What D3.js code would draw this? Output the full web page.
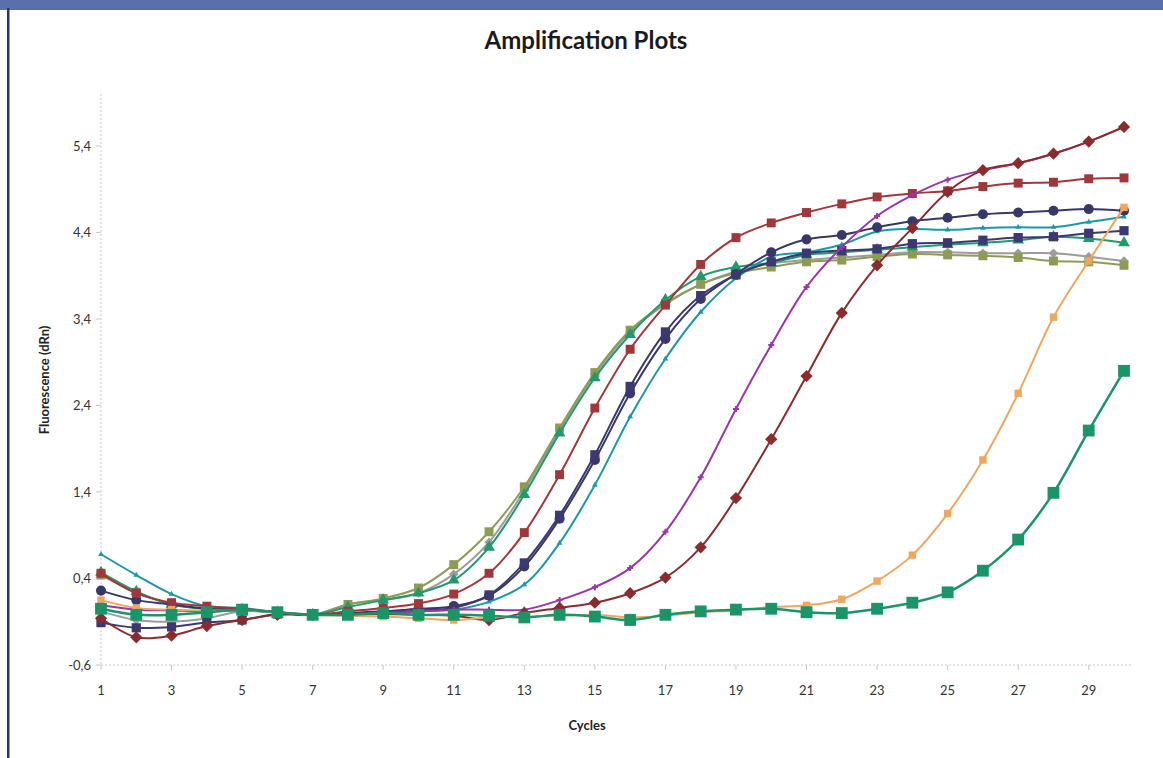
<!DOCTYPE html>
<html>
<head>
<meta charset="utf-8">
<script src="https://cdn.jsdelivr.net/npm/d3@7"></script>
<style>
  body { margin: 0; background: #fff; }
  svg { display: block; font-family: Lato, "Open Sans", sans-serif; }
</style>
</head>
<body>
<svg id="chart" width="1163" height="758"></svg>
<script>
// cycles 1..30
const cycles = d3.range(1, 31);
const yTicks = [-0.6, 0.4, 1.4, 2.4, 3.4, 4.4, 5.4];
const xTicks = [1, 3, 5, 7, 9, 11, 13, 15, 17, 19, 21, 23, 25, 27, 29];

const grayDiamond = [0.02, -0.08, -0.10, -0.06, 0.02, 0.01, -0.02, 0.10, 0.15, 0.23, 0.45, 0.82, 1.42, 2.12, 2.76, 3.25, 3.57, 3.80, 3.95, 4.04, 4.08, 4.11, 4.14, 4.17, 4.17, 4.16, 4.16, 4.16, 4.12, 4.07];
const oliveSquare = [0.44, 0.24, 0.10, 0.05, 0.04, 0.01, -0.02, 0.10, 0.17, 0.29, 0.56, 0.94, 1.46, 2.14, 2.78, 3.27, 3.58, 3.80, 3.93, 4.00, 4.06, 4.08, 4.12, 4.15, 4.14, 4.13, 4.11, 4.07, 4.06, 4.02];
const greenTriangle = [0.47, 0.25, 0.10, 0.05, 0.04, 0.01, -0.02, 0.07, 0.15, 0.23, 0.38, 0.76, 1.37, 2.08, 2.72, 3.22, 3.62, 3.89, 4.00, 4.05, 4.14, 4.17, 4.20, 4.23, 4.26, 4.28, 4.31, 4.35, 4.33, 4.28];
const tealLine = [0.68, 0.44, 0.22, 0.08, 0.06, 0.01, -0.02, -0.02, 0.00, 0.02, 0.04, 0.13, 0.33, 0.81, 1.48, 2.27, 2.94, 3.48, 3.87, 4.12, 4.17, 4.26, 4.41, 4.44, 4.43, 4.45, 4.46, 4.46, 4.52, 4.58];
const navyCircle = [0.26, 0.15, 0.10, 0.05, 0.04, 0.01, -0.02, 0.00, 0.02, 0.05, 0.08, 0.20, 0.54, 1.09, 1.77, 2.54, 3.17, 3.63, 3.92, 4.17, 4.32, 4.37, 4.46, 4.53, 4.57, 4.61, 4.63, 4.65, 4.67, 4.65];
const navySquare = [-0.11, -0.17, -0.16, -0.11, -0.08, -0.01, -0.02, -0.01, 0.00, 0.03, 0.06, 0.21, 0.58, 1.13, 1.83, 2.62, 3.25, 3.67, 3.91, 4.06, 4.16, 4.19, 4.21, 4.27, 4.28, 4.31, 4.34, 4.35, 4.39, 4.42];
const redSquare = [0.46, 0.23, 0.12, 0.08, 0.05, 0.01, -0.02, 0.02, 0.06, 0.11, 0.22, 0.46, 0.93, 1.60, 2.37, 3.05, 3.56, 4.03, 4.34, 4.51, 4.63, 4.73, 4.81, 4.85, 4.88, 4.93, 4.97, 4.98, 5.02, 5.03];
const purpleLine = [0.09, 0.04, 0.03, 0.02, 0.03, 0.01, -0.02, -0.02, 0.00, 0.02, 0.04, 0.04, 0.04, 0.15, 0.30, 0.52, 0.94, 1.57, 2.36, 3.10, 3.77, 4.23, 4.59, 4.83, 5.01, 5.12, 5.20, 5.31, 5.45, 5.62];
const redDiamond = [-0.06, -0.28, -0.26, -0.15, -0.08, -0.02, -0.02, -0.02, -0.01, -0.02, -0.03, -0.08, 0.00, 0.06, 0.12, 0.23, 0.41, 0.76, 1.33, 2.01, 2.74, 3.47, 4.02, 4.45, 4.87, 5.12, 5.20, 5.31, 5.45, 5.62];
const orangeSquare = [0.15, 0.06, 0.04, 0.03, 0.03, 0.01, -0.02, -0.03, -0.04, -0.06, -0.08, -0.05, -0.04, -0.03, -0.02, -0.05, -0.03, 0.01, 0.03, 0.07, 0.09, 0.16, 0.37, 0.67, 1.15, 1.77, 2.54, 3.42, 4.07, 4.69];
const greenSquare = [0.05, -0.02, -0.02, 0.01, 0.04, 0.01, -0.02, -0.02, 0.00, -0.02, -0.02, -0.03, -0.05, -0.02, -0.04, -0.08, -0.02, 0.02, 0.04, 0.05, 0.01, 0.00, 0.05, 0.12, 0.24, 0.49, 0.85, 1.39, 2.11, 2.80];

// rotate: square turned 45deg gives the Excel diamond
const series = [
  { values: grayDiamond,   color: "#9c9c9c", symbol: d3.symbolSquare,   size: 45,  rotate: 45, width: 2 },
  { values: oliveSquare,   color: "#8e9b57", symbol: d3.symbolSquare,   size: 80,  rotate: 0,  width: 2 },
  { values: greenTriangle, color: "#22996c", symbol: d3.symbolTriangle, size: 60,  rotate: 0,  width: 2 },
  { values: tealLine,      color: "#1b98a8", symbol: d3.symbolTriangle, size: 14,  rotate: 0,  width: 2 },
  { values: navyCircle,    color: "#38376a", symbol: d3.symbolCircle,   size: 80,  rotate: 0,  width: 2 },
  { values: navySquare,    color: "#3b3872", symbol: d3.symbolSquare,   size: 85,  rotate: 0,  width: 2 },
  { values: redSquare,     color: "#a0373a", symbol: d3.symbolSquare,   size: 80,  rotate: 0,  width: 2 },
  { values: purpleLine,    color: "#9a36a6", symbol: d3.symbolCross,    size: 20,  rotate: 0,  width: 2 },
  { values: redDiamond,    color: "#8a2c2e", symbol: d3.symbolSquare,   size: 75,  rotate: 45, width: 2 },
  { values: orangeSquare,  color: "#f1a65e", symbol: d3.symbolSquare,   size: 55,  rotate: 0,  width: 2 },
  { values: greenSquare,   color: "#1b9468", symbol: d3.symbolSquare,   size: 140, rotate: 0,  width: 2.5 }
];

const svg = d3.select("#chart");

// frame: blue bar on top, dark border on the left
svg.append("rect").attr("x", 0).attr("y", 0).attr("width", 1163).attr("height", 10).attr("fill", "#5b6fae");
svg.append("rect").attr("x", 7).attr("y", 8).attr("width", 2.5).attr("height", 750).attr("fill", "#23356f");

const x = d3.scaleLinear().domain([1, 30]).range([101, 1124]);
const y = d3.scaleLinear().domain([-0.6, 6.0]).range([665, 94]);

// title
svg.append("text")
  .attr("x", 586).attr("y", 49)
  .attr("text-anchor", "middle")
  .style("font-size", "24px").style("font-weight", "bold")
  .attr("fill", "#1a1a1a")
  .text("Amplification Plots");

// axes lines (dashed, light)
svg.append("line")
  .attr("x1", x(1)).attr("x2", 1132).attr("y1", y(-0.6)).attr("y2", y(-0.6))
  .attr("stroke", "#c8c8c8").attr("stroke-dasharray", "2,2");
svg.append("line")
  .attr("x1", x(1)).attr("x2", x(1)).attr("y1", y(6.0)).attr("y2", y(-0.6))
  .attr("stroke", "#c8c8c8").attr("stroke-dasharray", "2,2");

// y ticks + labels
const yAxis = svg.append("g");
yAxis.selectAll("line").data(yTicks).enter().append("line")
  .attr("x1", x(1) - 5).attr("x2", x(1))
  .attr("y1", d => y(d)).attr("y2", d => y(d))
  .attr("stroke", "#c8c8c8");
yAxis.selectAll("text").data(yTicks).enter().append("text")
  .attr("x", 91).attr("y", d => y(d) + 5)
  .attr("text-anchor", "end")
  .style("font-size", "13px").attr("fill", "#333")
  .text(d => d3.format(".1f")(d).replace(".", ",").replace("−", "-"));

// x ticks + labels
const xAxis = svg.append("g");
xAxis.selectAll("line").data(xTicks).enter().append("line")
  .attr("x1", d => x(d)).attr("x2", d => x(d))
  .attr("y1", y(-0.6)).attr("y2", y(-0.6) + 5)
  .attr("stroke", "#c8c8c8");
xAxis.selectAll("text").data(xTicks).enter().append("text")
  .attr("x", d => x(d)).attr("y", 695)
  .attr("text-anchor", "middle")
  .style("font-size", "13px").attr("fill", "#333")
  .text(d => d);

// axis titles
svg.append("text")
  .attr("x", 587).attr("y", 730)
  .attr("text-anchor", "middle")
  .style("font-size", "13px").style("font-weight", "bold").attr("fill", "#222")
  .text("Cycles");
svg.append("text")
  .attr("transform", "translate(49,380) rotate(-90)")
  .attr("text-anchor", "middle")
  .style("font-size", "13px").style("font-weight", "bold").attr("fill", "#222")
  .text("Fluorescence (dRn)");

// lines + markers
const line = d3.line()
  .x((d, i) => x(cycles[i]))
  .y(d => y(d))
  .curve(d3.curveCatmullRom.alpha(0.5));

series.forEach(s => {
  const g = svg.append("g");
  g.append("path")
    .datum(s.values)
    .attr("fill", "none")
    .attr("stroke", s.color)
    .attr("stroke-width", s.width)
    .attr("d", line);
  g.selectAll("path.marker").data(s.values).enter().append("path")
    .attr("class", "marker")
    .attr("transform", (d, i) => `translate(${x(cycles[i])},${y(d)}) rotate(${s.rotate})`)
    .attr("d", d3.symbol().type(s.symbol).size(s.size))
    .attr("fill", s.color);
});
</script>
</body>
</html>
